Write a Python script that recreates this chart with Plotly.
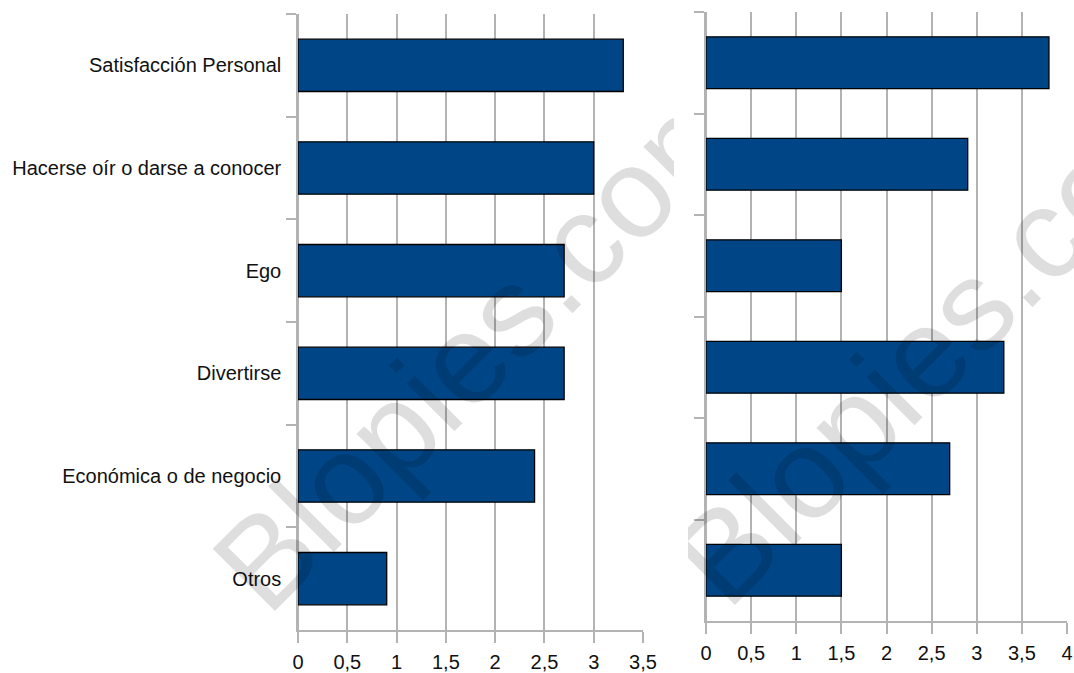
import plotly.graph_objects as go

# Motivos y valoraciones medias de los dos grupos
categorias = [
    "Satisfacción Personal",
    "Hacerse oír o darse a conocer",
    "Ego",
    "Divertirse",
    "Económica o de negocio",
    "Otros",
]
valores_izq = [3.3, 3.0, 2.7, 2.7, 2.4, 0.9]
valores_der = [3.8, 2.9, 1.5, 3.3, 2.7, 1.5]

marca_agua = "Blopies.com"

W, H = 1074, 673
AZUL = "#004586"
GRIS = "#b3b3b3"
FUENTE = dict(family="Liberation Sans, Arial, sans-serif", size=20, color="#111111")

fig = go.Figure()

fig.add_trace(go.Bar(
    y=categorias, x=valores_izq, orientation="h",
    marker=dict(color=AZUL, line=dict(color="#000000", width=1.3)),
    xaxis="x", yaxis="y", showlegend=False, hoverinfo="x+y",
))
fig.add_trace(go.Bar(
    y=categorias, x=valores_der, orientation="h",
    marker=dict(color=AZUL, line=dict(color="#000000", width=1.3)),
    xaxis="x2", yaxis="y2", showlegend=False, hoverinfo="x+y",
))

# Capas auxiliares (sin datos) que delimitan cada imagen para la marca de agua
for ax, ay in [("x3", "y3"), ("x4", "y4")]:
    fig.add_trace(go.Scatter(x=[None], y=[None], xaxis=ax, yaxis=ay,
                             showlegend=False, hoverinfo="skip"))


def px_x(a, b):
    return [a / W, b / W]


def px_y(top, bottom):
    return [1 - bottom / H, 1 - top / H]


eje_x = dict(
    dtick=0.5, tick0=0, showgrid=True, gridcolor=GRIS, gridwidth=1.5,
    showline=True, linecolor=GRIS, linewidth=1.5,
    ticks="outside", ticklen=11, tickcolor=GRIS, tickwidth=1.5,
    tickfont=FUENTE, zeroline=True, zerolinecolor=GRIS, zerolinewidth=1.5,
    fixedrange=True, automargin=False, ticklabeloverflow="allow",
    ticklabelstandoff=2,
)
eje_y = dict(
    type="category", autorange="reversed", showgrid=False,
    showline=True, linecolor=GRIS, linewidth=1.5,
    ticks="outside", tickson="boundaries", ticklen=10, tickcolor=GRIS, tickwidth=1.5,
    tickfont=FUENTE, zeroline=False, fixedrange=True, automargin=False,
)
eje_oculto = dict(visible=False, range=[0, 1], fixedrange=True, automargin=False)

fig.update_layout(
    width=W, height=H,
    margin=dict(l=0, r=0, t=0, b=0, autoexpand=False),
    paper_bgcolor="white", plot_bgcolor="rgba(0,0,0,0)",
    separators=",.",
    bargap=0.49,
    xaxis=dict(eje_x, domain=px_x(298, 643), range=[0, 3.5], anchor="y"),
    yaxis=dict(eje_y, domain=px_y(14, 630), anchor="x", ticklabelstandoff=11),
    xaxis2=dict(eje_x, domain=px_x(706, 1067), range=[0, 4], anchor="y2"),
    yaxis2=dict(eje_y, domain=px_y(12, 621), anchor="x2", showticklabels=False),
    xaxis3=dict(eje_oculto, domain=px_x(0, 674), anchor="y3"),
    yaxis3=dict(eje_oculto, domain=[0, 1], anchor="x3"),
    xaxis4=dict(eje_oculto, domain=px_x(688, 1074), anchor="y4"),
    yaxis4=dict(eje_oculto, domain=[0, 1], anchor="x4"),
)

# Marca de agua diagonal, recortada al área de cada imagen
for (ax, ay, x0, x1), (cx, cy) in [
    (("x3", "y3", 0, 674), (474, 332)),
    (("x4", "y4", 688, 1074), (934, 326)),
]:
    u = (cx - x0) / (x1 - x0)
    v = 1 - cy / H
    fig.add_shape(
        type="rect", xref=ax, yref=ay,
        x0=u - 0.01, x1=u + 0.01, y0=v - 0.01, y1=v + 0.01,
        line=dict(width=0), fillcolor="rgba(0,0,0,0)", layer="above",
        label=dict(
            text=marca_agua, textangle=-45, textposition="middle center",
            font=dict(family="Liberation Sans, Arial, sans-serif", size=128,
                      color="rgba(0,0,0,0.13)"),
        ),
    )

fig.write_html("out.html")
